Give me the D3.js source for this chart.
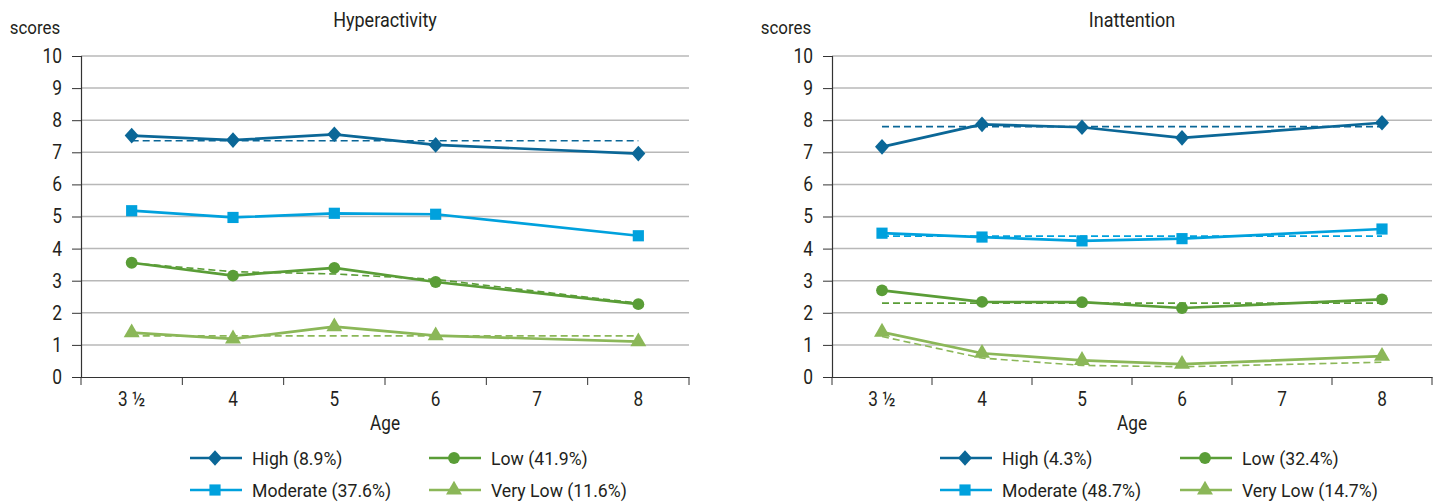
<!DOCTYPE html>
<html>
<head>
<meta charset="utf-8">
<script src="https://cdn.jsdelivr.net/npm/d3@7/dist/d3.min.js"></script>
<style>
  html, body { margin: 0; padding: 0; background: #fff; }
  svg text { font-family: "Roboto", "Liberation Sans", sans-serif; fill: #231f20; }
</style>
</head>
<body>
<svg id="chart" width="1439" height="502"></svg>
<script>
// Ages on the x axis (age 7 has no observation)
const ages = ["3 \u00bd", "4", "5", "6", "7", "8"];
const observedAges = ["3 \u00bd", "4", "5", "6", "8"];
const yTicks = [0, 1, 2, 3, 4, 5, 6, 7, 8, 9, 10];

const groups = ["High", "Moderate", "Low", "Very Low"];
const groupColors = ["#0b6797", "#00a1dd", "#5a9d37", "#8bb758"];
const groupMarkers = ["diamond", "square", "circle", "triangle"];

// Hyperactivity: observed mean scores per group
const hyperHigh = [7.52, 7.38, 7.56, 7.23, 6.96];
const hyperModerate = [5.18, 4.97, 5.10, 5.07, 4.40];
const hyperLow = [3.56, 3.16, 3.40, 2.96, 2.27];
const hyperVeryLow = [1.38, 1.19, 1.57, 1.29, 1.10];
// Hyperactivity: estimated trajectories (dashed)
const hyperHighFit = [7.36, 7.36, 7.36, 7.36, 7.36];
const hyperModerateFit = null;
const hyperLowFit = [3.55, 3.28, 3.21, 3.04, 2.30];
const hyperVeryLowFit = [1.28, 1.28, 1.28, 1.28, 1.28];
const hyperShares = ["8.9%", "37.6%", "41.9%", "11.6%"];

// Inattention: observed mean scores per group
const inattHigh = [7.17, 7.87, 7.78, 7.45, 7.92];
const inattModerate = [4.48, 4.36, 4.24, 4.31, 4.61];
const inattLow = [2.70, 2.34, 2.33, 2.15, 2.42];
const inattVeryLow = [1.40, 0.74, 0.52, 0.40, 0.65];
// Inattention: estimated trajectories (dashed)
const inattHighFit = [7.80, 7.80, 7.80, 7.80, 7.80];
const inattModerateFit = [4.39, 4.39, 4.39, 4.39, 4.39];
const inattLowFit = [2.30, 2.30, 2.30, 2.30, 2.30];
const inattVeryLowFit = [1.26, 0.59, 0.36, 0.32, 0.46];
const inattShares = ["4.3%", "48.7%", "32.4%", "14.7%"];

const panels = [
  {
    title: "Hyperactivity",
    left: 81, right: 689,
    observed: [hyperHigh, hyperModerate, hyperLow, hyperVeryLow],
    fitted: [hyperHighFit, hyperModerateFit, hyperLowFit, hyperVeryLowFit],
    shares: hyperShares,
    legendX: [190, 429]
  },
  {
    title: "Inattention",
    left: 832, right: 1432,
    observed: [inattHigh, inattModerate, inattLow, inattVeryLow],
    fitted: [inattHighFit, inattModerateFit, inattLowFit, inattVeryLowFit],
    shares: inattShares,
    legendX: [940, 1180]
  }
];

const svg = d3.select("#chart");
const plotTop = 56, plotBottom = 377;

// narrow lettering: horizontally squeezed text
function narrowText(sel, x, y, str, size, sx, anchor) {
  return sel.append("text")
    .attr("transform", `translate(${x},${y}) scale(${sx},1)`)
    .attr("text-anchor", anchor || "start")
    .style("font-size", size + "px")
    .text(str);
}

const diamondPath = "M0,-7.8L7,0L0,7.8L-7,0Z";
const markerPath = {
  diamond: () => diamondPath,
  square: d3.symbol().type(d3.symbolSquare).size(125),
  circle: d3.symbol().type(d3.symbolCircle).size(110),
  triangle: d3.symbol().type(d3.symbolTriangle).size(110)
};

function drawMarker(sel, kind, color) {
  return sel.append("path")
    .attr("d", markerPath[kind]())
    .attr("fill", color);
}

panels.forEach(p => {
  const g = svg.append("g");
  const x = d3.scaleBand().domain(ages).range([p.left, p.right]);
  const y = d3.scaleLinear().domain([0, 10]).range([plotBottom, plotTop]);
  const cx = a => x(a) + x.bandwidth() / 2;

  // horizontal gridlines
  g.append("g").selectAll("line").data(yTicks.filter(t => t > 0)).join("line")
    .attr("x1", p.left).attr("x2", p.right)
    .attr("y1", d => y(d)).attr("y2", d => y(d))
    .attr("stroke", "#b8b8b8").attr("stroke-width", 1.5);

  // y axis
  const yAxis = g.append("g").attr("transform", `translate(${p.left},0)`)
    .call(d3.axisLeft(y).tickValues(yTicks).tickSize(9).tickPadding(10));
  yAxis.select(".domain").attr("stroke", "#333").attr("stroke-width", 1.2);
  yAxis.selectAll(".tick line").attr("stroke", "#333");
  yAxis.selectAll("text")
    .style("font-size", "20px").attr("fill", "#231f20")
    .attr("x", -19 / 0.87).attr("transform", "scale(0.87,1)");

  // x axis with ticks between categories
  const xAxis = g.append("g").attr("transform", `translate(0,${plotBottom})`)
    .call(d3.axisBottom(x).tickSize(0).tickPadding(15));
  xAxis.select(".domain").attr("stroke", "#333").attr("stroke-width", 1.2);
  xAxis.selectAll("text")
    .style("font-size", "20px").attr("fill", "#231f20")
    .attr("transform", "scale(0.86,1)");
  const bounds = ages.map(a => x(a)).concat([p.right]);
  g.append("g").selectAll("line").data(bounds).join("line")
    .attr("x1", d => d).attr("x2", d => d)
    .attr("y1", plotBottom).attr("y2", plotBottom + 8)
    .attr("stroke", "#333").attr("stroke-width", 1);

  // titles
  narrowText(g, (p.left + p.right) / 2, 27, p.title, 20, 0.9, "middle");
  narrowText(g, p.left - 46, 34, "scores", 19, 0.89, "middle");
  narrowText(g, (p.left + p.right) / 2, 430, "Age", 20, 0.86, "middle");

  const line = d3.line().x((d, i) => cx(observedAges[i])).y(d => y(d));

  // dashed estimated trajectories
  p.fitted.forEach((vals, k) => {
    if (!vals) return;
    g.append("path").datum(vals).attr("d", line)
      .attr("fill", "none").attr("stroke", groupColors[k])
      .attr("stroke-width", 1.6).attr("stroke-dasharray", "7,4");
  });

  // observed trajectories with markers
  p.observed.forEach((vals, k) => {
    g.append("path").datum(vals).attr("d", line)
      .attr("fill", "none").attr("stroke", groupColors[k])
      .attr("stroke-width", 2.7).attr("stroke-linejoin", "round");
    vals.forEach((v, i) => {
      drawMarker(g, groupMarkers[k], groupColors[k])
        .attr("transform", `translate(${cx(observedAges[i])},${y(v)})`);
    });
  });

  // legend: two columns, two rows
  const rowsY = [458, 490];
  groups.forEach((name, k) => {
    const col = k === 0 || k === 1 ? 0 : 1;
    const row = k === 0 || k === 2 ? 0 : 1;
    const lx = p.legendX[col], ly = rowsY[row];
    const lg = g.append("g");
    lg.append("line").attr("x1", lx).attr("x2", lx + 52)
      .attr("y1", ly).attr("y2", ly)
      .attr("stroke", groupColors[k]).attr("stroke-width", 2.7);
    drawMarker(lg, groupMarkers[k], groupColors[k])
      .attr("transform", `translate(${lx + 25},${ly})`);
    narrowText(lg, lx + 62, ly + 7, `${name} (${p.shares[k]})`, 19, 0.93, "start");
  });
});
</script>
</body>
</html>
